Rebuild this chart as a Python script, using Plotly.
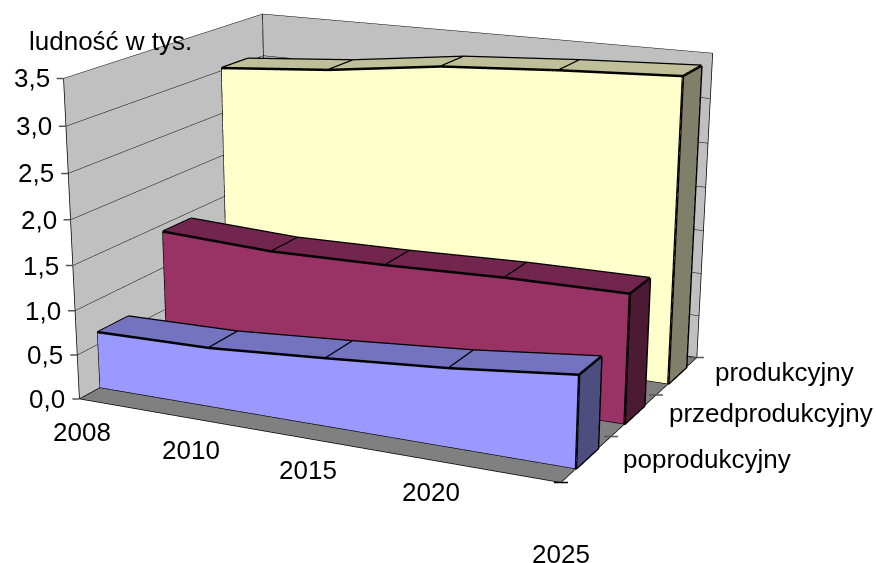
import plotly.graph_objects as go

years = ["2008", "2010", "2015", "2020", "2025"]
groups = ["poprodukcyjny", "przedprodukcyjny", "produkcyjny"]
poprodukcyjny = [0.64, 0.66, 0.75, 0.85, 0.99]
przedprodukcyjny = [1.42, 1.36, 1.38, 1.42, 1.43]
produkcyjny = [3.03, 3.13, 3.29, 3.37, 3.43]
z_ticks = [0, 0.5, 1.0, 1.5, 2.0, 2.5, 3.0, 3.5]
z_labels = ["0,0", "0,5", "1,0", "1,5", "2,0", "2,5", "3,0", "3,5"]

# Camera fitted to the reference: the wide figure narrows the fixed 45 degree lens.
EYE = dict(x=1.775, y=-3.752, z=1.129)
CENTER = dict(x=-7.886, y=16.615, z=-7.084)
UP = dict(x=-0.469, y=0.981, z=1)
ASPECT = dict(x=1.000, y=0.763, z=0.627)
FIG_W, FIG_H, LEFT, TOP = 1825, 1825, -518, -502

palette = {0: ("#9999FF", "#7373BF", "#4D4D80"),
           1: ("#993366", "#73264D", "#4D1A33"),
           2: ("#FFFFCC", "#BFBF99", "#80806A")}
series = [poprodukcyjny, przedprodukcyjny, produkcyjny]
DEPTH_FRONT, DEPTH_BACK = 0.29, 0.73
xpos = list(range(len(years)))

fig = go.Figure()
for s, vals in enumerate(series):
    y0, y1 = s + DEPTH_FRONT, s + DEPTH_BACK
    vx, vy, vz, I, J, K, fc = [], [], [], [], [], [], []
    front, top, side = palette[s]

    def quad(a, b, c, d, col):
        n = len(vx)
        for q in (a, b, c, d):
            vx.append(q[0]); vy.append(q[1]); vz.append(q[2])
        I.extend([n, n]); J.extend([n + 1, n + 2]); K.extend([n + 2, n + 3]); fc.extend([col, col])

    for i in range(len(xpos) - 1):
        a, b, va, vb = xpos[i], xpos[i + 1], vals[i], vals[i + 1]
        quad((a, y0, 0), (b, y0, 0), (b, y0, vb), (a, y0, va), front)
        quad((a, y0, va), (b, y0, vb), (b, y1, vb), (a, y1, va), top)
    quad((xpos[-1], y0, 0), (xpos[-1], y1, 0), (xpos[-1], y1, vals[-1]), (xpos[-1], y0, vals[-1]), side)
    quad((xpos[0], y0, 0), (xpos[0], y1, 0), (xpos[0], y1, vals[0]), (xpos[0], y0, vals[0]), side)
    fig.add_trace(go.Mesh3d(x=vx, y=vy, z=vz, i=I, j=J, k=K, facecolor=fc, flatshading=True,
                            lighting=dict(ambient=1, diffuse=0, specular=0, roughness=1, fresnel=0),
                            hoverinfo="skip", showscale=False))
    lx, ly, lz = [], [], []

    def seg(*pp):
        for q in pp:
            lx.append(q[0]); ly.append(q[1]); lz.append(q[2])
        lx.append(None); ly.append(None); lz.append(None)

    seg(*[(x, y0, v) for x, v in zip(xpos, vals)])
    seg(*[(x, y1, v) for x, v in zip(xpos, vals)])
    for x, v in zip(xpos, vals):
        seg((x, y0, v), (x, y1, v))
    seg((xpos[0], y0, vals[0]), (xpos[0], y0, 0), (xpos[-1], y0, 0), (xpos[-1], y0, vals[-1]))
    seg((xpos[-1], y0, 0), (xpos[-1], y1, 0), (xpos[-1], y1, vals[-1]))
    fig.add_trace(go.Scatter3d(x=lx, y=ly, z=lz, mode="lines", line=dict(color="black", width=5),
                               hoverinfo="skip", showlegend=False))

xr, yr, zr = [0, 4], [0, 3], [0, 3.5]
frame_x = [xr[0], xr[0], None, xr[0], xr[0], None, xr[1], xr[1], None, xr[0], xr[1], None, xr[0], xr[0], None, xr[1], xr[1], None, xr[0], xr[1]]
frame_y = [yr[0], yr[0], None, yr[1], yr[1], None, yr[1], yr[1], None, yr[0], yr[0], None, yr[0], yr[1], None, yr[0], yr[1], None, yr[1], yr[1]]
frame_z = [zr[0], zr[1], None, zr[0], zr[1], None, zr[0], zr[1], None, zr[0], zr[0], None, zr[0], zr[0], None, zr[0], zr[0], None, zr[0], zr[0]]
fig.add_trace(go.Scatter3d(x=frame_x, y=frame_y, z=frame_z, mode="lines",
                           line=dict(color="black", width=1.5), hoverinfo="skip", showlegend=False))

FONT = dict(family="Liberation Sans", size=26, color="black")
TICK = "#555555"
ann = []


def tick(x, y, z, ax, ay, color=TICK):
    ann.append(dict(x=x, y=y, z=z, text=" ", showarrow=True, arrowhead=0, arrowwidth=1.5, arrowcolor=color,
                    standoff=0, startstandoff=0, ax=ax, ay=ay))


for z, t in zip(z_ticks, z_labels):
    ann.append(dict(x=0, y=0, z=z, text=t, showarrow=False, xanchor="right", xshift=-12, font=FONT))
    tick(0, 0, z, -10, 0)
for x, t, dy, dx in zip(xpos, years, [-33, -32, -31, -32, -71], [3, 0, 0, 0, 0]):
    ann.append(dict(x=x, y=0, z=0, text=t, showarrow=False, yshift=dy, xshift=dx, font=FONT))
    tick(x, 0, 0, 0, 8)
for i, (t, dx, dy) in enumerate(zip(groups, [34, 33, 36], [0, 2, 4])):
    ann.append(dict(x=4, y=i + 0.5, z=0, text=t, showarrow=False, xanchor="left", xshift=dx, yshift=dy, font=FONT))
for i in range(4):
    col = "black" if i == 0 else TICK
    tick(4, i, 0, -10, 0, col)
    tick(4, i, 0, 10, 0, col)


def axis(bg, rng, tv):
    return dict(range=rng, autorange=False, showbackground=True, backgroundcolor=bg, showgrid=False,
                zeroline=False, showline=False, showticklabels=False, ticks="",
                title=dict(text=""), showspikes=False, tickvals=tv)


z_ax = axis("#808080", zr, z_ticks)
z_ax.update(showgrid=True, gridcolor="black", gridwidth=1)
fig.update_layout(
    width=FIG_W, height=FIG_H, margin=dict(l=0, r=0, t=0, b=0), paper_bgcolor="white", showlegend=False,
    scene=dict(
        domain=dict(x=[0, 1], y=[0, 1]),
        xaxis=axis("#C0C0C0", xr, xpos), yaxis=axis("#C0C0C0", yr, list(range(4))), zaxis=z_ax,
        aspectmode="manual", aspectratio=ASPECT,
        camera=dict(eye=EYE, center=CENTER, up=UP, projection=dict(type="perspective")),
        annotations=ann),
    annotations=[
        dict(xref="paper", yref="paper", x=(27 - LEFT) / FIG_W, y=1 - (41 - TOP) / FIG_H, xanchor="left",
             yanchor="middle", text="ludność w tys.", showarrow=False, font=FONT),
    ])
post = f"""var g=document.getElementById('{{plot_id}}');g.style.position='absolute';g.style.left='{LEFT}px';g.style.top='{TOP}px';
document.documentElement.style.overflow='hidden';document.body.style.overflow='hidden';document.body.style.margin='0';"""
fig.write_html("out.html", post_script=post)
